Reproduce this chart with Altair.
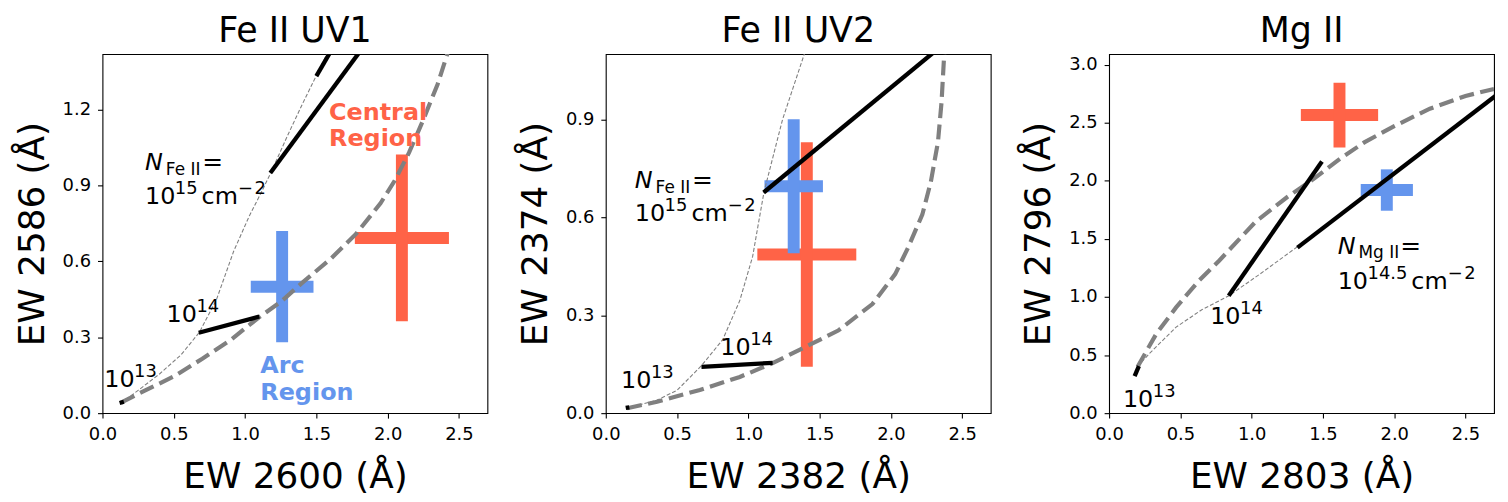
import altair as alt
import pandas as pd

FONT = "DejaVu Sans"
RED = "#FF6347"
BLUE = "#6495ED"
GRAY = "#808080"

# ---------------- data ----------------
titles = ["Fe II UV1", "Fe II UV2", "Mg II"]
x_titles = ["EW 2600 (Å)", "EW 2382 (Å)", "EW 2803 (Å)"]
y_titles = ["EW 2586 (Å)", "EW 2374 (Å)", "EW 2796 (Å)"]
x_max = 2.7
y_max = [1.42, 1.10, 3.09]
x_ticks = [0.0, 0.5, 1.0, 1.5, 2.0, 2.5]
y_ticks = [[0.0, 0.3, 0.6, 0.9, 1.2], [0.0, 0.3, 0.6, 0.9],
           [0.0, 0.5, 1.0, 1.5, 2.0, 2.5, 3.0]]

# thick dashed curves (large b)
uv1_thick_x = [0.13, 0.30, 0.50, 0.70, 0.90, 1.10, 1.25, 1.40, 1.60, 1.78, 1.95, 2.05, 2.15, 2.25, 2.35, 2.43]
uv1_thick_y = [0.042, 0.09, 0.145, 0.215, 0.29, 0.38, 0.44, 0.515, 0.61, 0.71, 0.83, 0.92, 1.03, 1.16, 1.30, 1.44]
uv2_thick_x = [0.15, 0.36, 0.66, 0.94, 1.17, 1.40, 1.63, 1.87, 2.03, 2.12, 2.22, 2.28, 2.33, 2.355, 2.375]
uv2_thick_y = [0.015, 0.035, 0.071, 0.111, 0.153, 0.203, 0.253, 0.334, 0.426, 0.507, 0.608, 0.709, 0.831, 0.953, 1.11]
mg_thick_x = [0.20, 0.33, 0.47, 0.63, 0.77, 1.03, 1.25, 1.44, 1.62, 1.79, 2.0, 2.25, 2.5, 2.7]
mg_thick_y = [0.40, 0.68, 0.91, 1.14, 1.31, 1.65, 1.86, 2.02, 2.19, 2.33, 2.47, 2.62, 2.73, 2.79]

# thin dashed curves (small b)
uv1_thin_x = [0.13, 0.25, 0.40, 0.55, 0.68, 0.80, 0.92, 1.03, 1.12, 1.18, 1.30, 1.40, 1.50, 1.60]
uv1_thin_y = [0.04, 0.09, 0.155, 0.23, 0.32, 0.45, 0.64, 0.78, 0.88, 0.95, 1.10, 1.22, 1.335, 1.45]
uv2_thin_x = [0.15, 0.36, 0.50, 0.67, 0.82, 0.94, 1.03, 1.07, 1.11, 1.24, 1.40]
uv2_thin_y = [0.015, 0.04, 0.07, 0.145, 0.225, 0.345, 0.48, 0.58, 0.678, 0.90, 1.11]
mg_thin_x = [0.20, 0.28, 0.47, 0.65, 0.84, 1.05, 1.33]
mg_thin_y = [0.40, 0.51, 0.74, 0.89, 1.01, 1.19, 1.44]

# black constant-N segments: x1, y1, x2, y2
uv1_seg = [(0.12, 0.040, 0.15, 0.045), (0.675, 0.318, 1.10, 0.382),
           (1.177, 0.950, 1.82, 1.441), (1.50, 1.333, 1.60, 1.43)]
uv2_seg = [(0.14, 0.016, 0.165, 0.018), (0.671, 0.142, 1.170, 0.154),
           (1.107, 0.676, 2.31, 1.109)]
mg_seg = [(0.179, 0.319, 0.209, 0.404), (0.839, 1.011, 1.493, 2.165),
          (1.321, 1.424, 2.72, 2.740)]

# measurements: x, y, xerr, yerr  (central region, arc region)
uv1_central = (2.10, 0.693, 0.33, 0.33)
uv1_arc = (1.26, 0.50, 0.22, 0.22)
uv2_central = (1.41, 0.486, 0.347, 0.344)
uv2_arc = (1.318, 0.695, 0.205, 0.205)
mg_central = (1.616, 2.565, 0.271, 0.278)
mg_arc = (1.948, 1.92, 0.183, 0.178)

# annotation anchors
lab13 = [(0.012, 0.105), (0.107, 0.076), (0.097, 0.056)]
lab14 = [(0.449, 0.359), (0.803, 0.177), (0.709, 0.769)]
labN = [(0.298, 0.961, 0.829), (0.203, 0.689, 0.588), (1.603, 1.373, 1.068)]
N_ion = ["Fe II", "Fe II", "Mg II"]
N_exp = ["15", "15", "14.5"]
central_lab = (1.589, 1.161, 1.056)
arc_lab = (1.107, 0.157, 0.052)

thick = [(uv1_thick_x, uv1_thick_y), (uv2_thick_x, uv2_thick_y), (mg_thick_x, mg_thick_y)]
thin = [(uv1_thin_x, uv1_thin_y), (uv2_thin_x, uv2_thin_y), (mg_thin_x, mg_thin_y)]
segs = [uv1_seg, uv2_seg, mg_seg]
meas = [(uv1_central, uv1_arc), (uv2_central, uv2_arc), (mg_central, mg_arc)]

# ---------------- helpers ----------------
W, H = 387, 361
BASE, SUP = 24, 18
SUP_DY, SUB_DY = -10, 4.7
GLYPH = {**{d: 1303 for d in "0123456789"}, ".": 651, " ": 651, "c": 1126, "m": 1995,
         "−": 1716, "N": 1532, "F": 1178, "e": 1260, "I": 604, "M": 1767, "g": 1300, "=": 1716}


def adv(s, size):
    return sum(GLYPH.get(ch, 1200) for ch in s) / 2048 * size


def scales(i):
    xs = alt.Scale(domain=[0, x_max], nice=False, zero=False)
    ys = alt.Scale(domain=[0, y_max[i]], nice=False, zero=False)
    xa = alt.Axis(values=x_ticks, format=".1f", title=x_titles[i])
    ya = alt.Axis(values=y_ticks[i], format=".1f", title=y_titles[i])
    return xs, xa, ys, ya


def XY(i, xf="x", yf="y"):
    xs, xa, ys, ya = scales(i)
    return alt.X(f"{xf}:Q", scale=xs, axis=xa), alt.Y(f"{yf}:Q", scale=ys, axis=ya)


def text(i, x, y, s, size, dx=0, dy=0, color="black", style="normal", weight="normal", align="left"):
    X, Y = XY(i)
    d = pd.DataFrame({"x": [x], "y": [y], "t": [s]})
    return alt.Chart(d).mark_text(align=align, baseline="alphabetic", font=FONT,
                                  fontSize=size, dx=dx, dy=dy, color=color,
                                  fontStyle=style, fontWeight=weight).encode(x=X, y=Y, text="t:N")


def power(i, x, y, exp):
    return [text(i, x, y, "10", BASE), text(i, x, y, exp, SUP, dx=adv("10", BASE) - 0.5, dy=SUP_DY)]


def panel(i):
    X, Y = XY(i)
    layers = []
    # error crosses
    rows = []
    for name, m in zip(["central", "arc"], meas[i]):
        rows.append({"region": name, "x": m[0], "y": m[1], "xl": m[0] - m[2], "xh": m[0] + m[2],
                     "yl": m[1] - m[3], "yh": m[1] + m[3]})
    cd = pd.DataFrame(rows)
    col = alt.Color("region:N", scale=alt.Scale(domain=["central", "arc"], range=[RED, BLUE]), legend=None)
    for name in ["central", "arc"]:
        sub = cd[cd.region == name]
        Xl, _ = XY(i, xf="xl")
        _, Yl = XY(i, yf="yl")
        layers.append(alt.Chart(sub).mark_rule(strokeWidth=12, strokeCap="butt").encode(
            x=Xl, x2="xh:Q", y=Y, color=col))
        layers.append(alt.Chart(sub).mark_rule(strokeWidth=12, strokeCap="butt").encode(
            x=X, y=Yl, y2="yh:Q", color=col))
    # curves
    tx, ty = thick[i]
    td = pd.DataFrame({"x": tx, "y": ty, "o": range(len(tx))})
    layers.append(alt.Chart(td).mark_line(color=GRAY, strokeWidth=4.2, strokeDash=[15, 6.5], clip=True)
                  .encode(x=X, y=Y, order="o:Q"))
    nx, ny = thin[i]
    nd = pd.DataFrame({"x": nx, "y": ny, "o": range(len(nx))})
    layers.append(alt.Chart(nd).mark_line(color=GRAY, strokeWidth=1.1, strokeDash=[4, 2], clip=True)
                  .encode(x=X, y=Y, order="o:Q"))
    srows = []
    for k, s in enumerate(segs[i]):
        srows.append({"seg": k, "x": s[0], "y": s[1], "o": 0})
        srows.append({"seg": k, "x": s[2], "y": s[3], "o": 1})
    sd = pd.DataFrame(srows)
    layers.append(alt.Chart(sd).mark_line(color="black", strokeWidth=4.3, strokeCap="butt", clip=True)
                  .encode(x=X, y=Y, detail="seg:N", order="o:Q"))
    # annotations
    layers += power(i, *lab13[i], "13")
    layers += power(i, *lab14[i], "14")
    nx0, ny1, ny2 = labN[i]
    layers.append(text(i, nx0, ny1, "N", BASE, style="italic"))
    layers.append(text(i, nx0, ny1, N_ion[i], 17, dx=21, dy=SUB_DY))
    layers.append(text(i, nx0, ny1, "=", 25, dx=21 + adv(N_ion[i], 17) + 1))
    layers += power(i, nx0, ny2, N_exp[i])
    cm_dx = adv("10", BASE) + adv(N_exp[i], SUP) + 3.5
    layers.append(text(i, nx0, ny2, "cm", BASE, dx=cm_dx))
    layers.append(text(i, nx0, ny2, "−", SUP, dx=cm_dx + adv("cm", BASE), dy=SUP_DY))
    layers.append(text(i, nx0, ny2, "2", SUP, dx=cm_dx + adv("cm", BASE) + adv("−", SUP) + 1.5, dy=SUP_DY))
    if i == 0:
        cx, cy1, cy2 = central_lab
        layers.append(text(i, cx, cy1, "Central", BASE, color=RED, weight="bold"))
        layers.append(text(i, cx, cy2, "Region", BASE, color=RED, weight="bold"))
        ax_, ay1, ay2 = arc_lab
        layers.append(text(i, ax_, ay1, "Arc", BASE, color=BLUE, weight="bold"))
        layers.append(text(i, ax_, ay2, "Region", BASE, color=BLUE, weight="bold"))
    # panel title, placed just above the top of the frame
    layers.append(text(i, x_max / 2, y_max[i], titles[i], 35, dy=-12.4, align="center"))
    return alt.layer(*layers).properties(width=W, height=H)


chart = alt.hconcat(panel(0), panel(1), panel(2), spacing=28).properties(
    padding={"left": 5, "top": 4, "right": 5, "bottom": 5}
).configure_view(stroke="black", strokeWidth=1.1).configure_axis(
    grid=False, domain=False, tickColor="black", tickSize=5, tickWidth=1.1,
    labelFont=FONT, labelFontSize=18, labelColor="black", labelPadding=7,
    labelFlush=False, labelOverlap=False,
    titleFont=FONT, titleFontSize=36, titleFontWeight="normal", titleColor="black"
).configure_axisX(titlePadding=17).configure_axisY(titlePadding=11)

chart.save("out.html", embed_options={"renderer": "svg", "actions": False})
